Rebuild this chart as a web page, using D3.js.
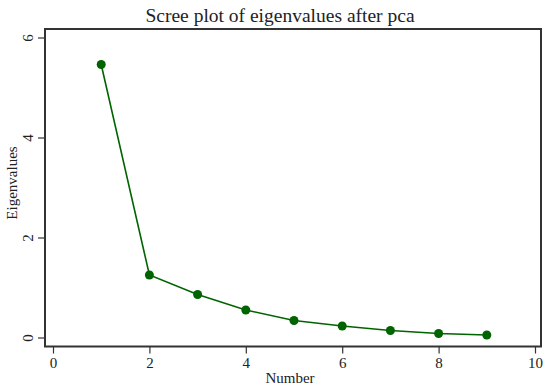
<!DOCTYPE html>
<html>
<head>
<meta charset="utf-8">
<script src="https://cdn.jsdelivr.net/npm/d3@7"></script>
<style>
  body { margin: 0; background: #fff; }
  text { font-family: "Liberation Serif", "Times New Roman", serif; fill: #222; }
</style>
</head>
<body>
<script>
// data
var numbers = [1, 2, 3, 4, 5, 6, 7, 8, 9];
var eigenvalues = [5.46, 1.25, 0.86, 0.55, 0.34, 0.23, 0.14, 0.08, 0.05];
var xTicks = [0, 2, 4, 6, 8, 10];
var yTicks = [0, 2, 4, 6];

var w = 550, h = 392;
var green = '#006400';
var serif = '"Liberation Serif", "Times New Roman", serif';

var svg = d3.select('body').append('svg')
  .attr('width', w)
  .attr('height', h);

// frame of the plot region
var frame = {left: 45, top: 29, right: 541, bottom: 346.5};

var x = d3.scaleLinear().domain([0, 10]).range([53, 535]);
var y = d3.scaleLinear().domain([0, 6]).range([337.5, 37.5]);

svg.append('rect')
  .attr('x', frame.left)
  .attr('y', frame.top)
  .attr('width', frame.right - frame.left)
  .attr('height', frame.bottom - frame.top)
  .style('fill', 'none')
  .style('stroke', '#333')
  .style('stroke-width', 2);

// title
svg.append('text')
  .attr('x', 280)
  .attr('y', 22)
  .attr('text-anchor', 'middle')
  .style('font-family', serif)
  .style('font-size', '19.5px')
  .text('Scree plot of eigenvalues after pca');

// x axis
var xAxis = svg.append('g')
  .attr('transform', 'translate(0,' + frame.bottom + ')')
  .call(d3.axisBottom(x).tickValues(xTicks).tickSize(7).tickPadding(4).tickFormat(d3.format('d')));
xAxis.select('.domain').remove();
xAxis.selectAll('line').style('stroke', '#333').style('stroke-width', 1.2);
xAxis.selectAll('text').style('font-size', '15px').style('font-family', serif).style('fill', '#222');

svg.append('text')
  .attr('x', 290)
  .attr('y', 383)
  .attr('text-anchor', 'middle')
  .style('font-family', serif)
  .style('font-size', '15px')
  .text('Number');

// y axis with rotated labels
var yAxis = svg.append('g')
  .attr('transform', 'translate(' + frame.left + ',0)')
  .call(d3.axisLeft(y).tickValues(yTicks).tickSize(7).tickFormat(d3.format('d')));
yAxis.select('.domain').remove();
yAxis.selectAll('line').style('stroke', '#333').style('stroke-width', 1.2);
yAxis.selectAll('text')
  .attr('x', null)
  .attr('dy', null)
  .attr('transform', 'translate(-12,0) rotate(-90)')
  .attr('text-anchor', 'middle')
  .style('font-size', '15px')
  .style('font-family', serif)
  .style('fill', '#222');

svg.append('text')
  .attr('transform', 'translate(17,' + 183 + ') rotate(-90)')
  .attr('text-anchor', 'middle')
  .style('font-family', serif)
  .style('font-size', '15px')
  .text('Eigenvalues');

// the scree line and markers
var line = d3.line()
  .x(function(d, i) { return x(numbers[i]); })
  .y(function(d) { return y(d); });

svg.append('path')
  .datum(eigenvalues)
  .attr('d', line)
  .style('fill', 'none')
  .style('stroke', green)
  .style('stroke-width', 1.6);

svg.selectAll('.pt').data(eigenvalues)
  .enter()
  .append('circle')
  .attr('cx', function(d, i) { return x(numbers[i]); })
  .attr('cy', function(d) { return y(d); })
  .attr('r', 4.5)
  .style('fill', green)
  .classed('pt', true);
</script>
</body>
</html>
